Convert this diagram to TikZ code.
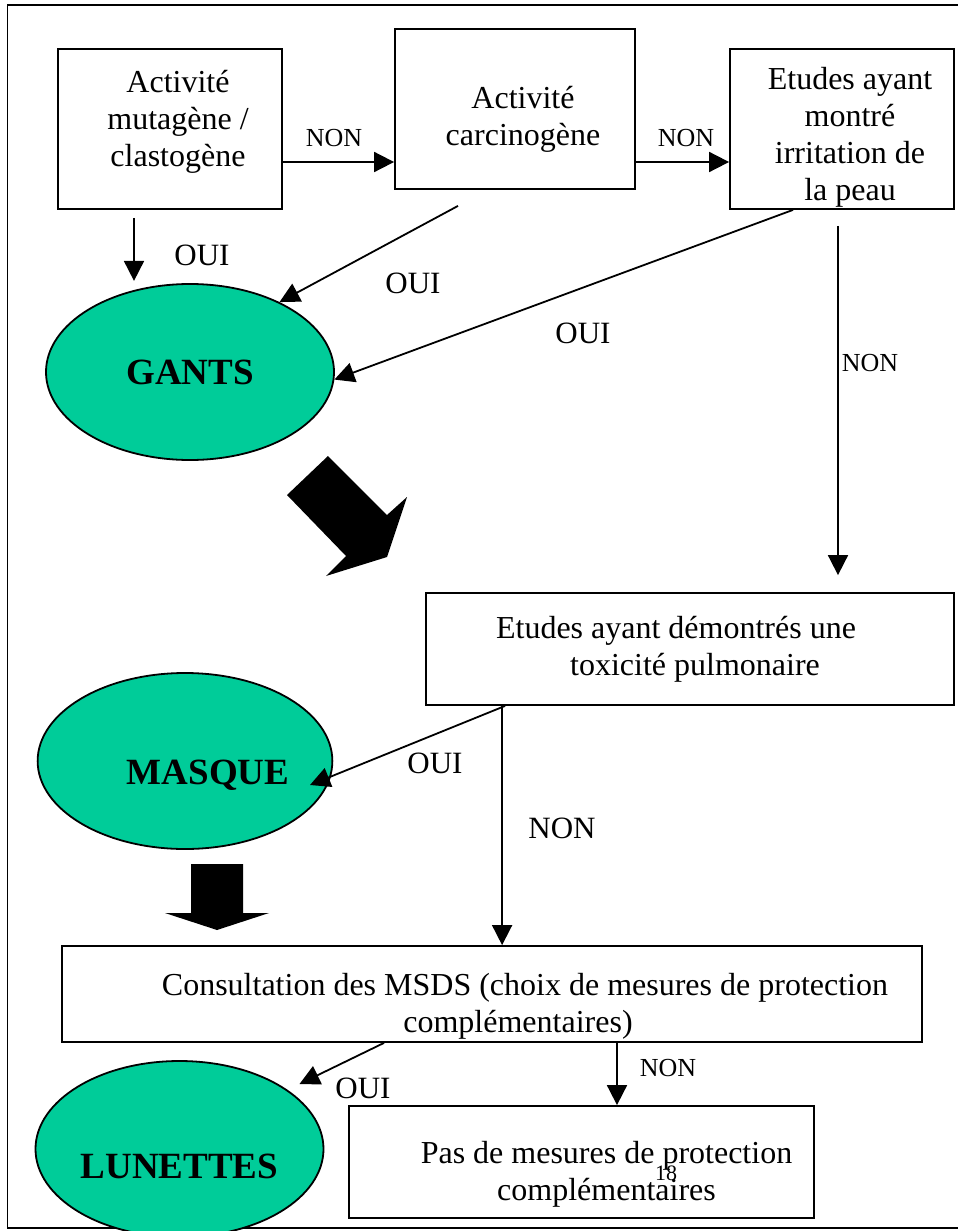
\documentclass[tikz,border=0pt]{standalone}
\usepackage{fontspec}
\setmainfont{Liberation Serif}
\usetikzlibrary{arrows.meta}
\usetikzlibrary{shapes.geometric}

\definecolor{ovalgreen}{RGB}{0,204,153}

\begin{document}
\begin{tikzpicture}[x=1pt, y=-1pt, line width=1.8pt,
  box/.style={draw, align=center, inner sep=0pt, font=\fontsize{32}{37}\selectfont},
  oval/.style={draw, ellipse, fill=ovalgreen, minimum width=288pt, minimum height=176pt,
               inner sep=0pt, font=\fontsize{37}{44}\selectfont\bfseries},
  flow/.style={-{Triangle[length=20pt,width=20pt]}},
  small/.style={font=\fontsize{26}{30}\selectfont, inner sep=0pt},
  big/.style={font=\fontsize{31}{35}\selectfont, inner sep=0pt}]
\useasboundingbox (0,0) rectangle (958,1231);
\draw (7.5,5) rectangle (965,1228);

% decision boxes
\node[box, minimum width=224pt, minimum height=160pt] (muta) at (170,129)
  {\hspace*{16pt}Activité\\\hspace*{16pt}mutagène /\\\hspace*{16pt}clastogène\rule[-21pt]{0pt}{21pt}};
\node[box, minimum width=240pt, minimum height=160pt] (carc) at (515,109)
  {\rule{0pt}{43pt}\hspace*{16pt}Activité\\\hspace*{16pt}carcinogène};
\node[box, minimum width=224pt, minimum height=160pt] (irri) at (842,129)
  {\rule{0pt}{38pt}\hspace*{16pt}Etudes ayant\\\hspace*{16pt}montré\\\hspace*{16pt}irritation de\\\hspace*{16pt}la peau};
\node[box, minimum width=528pt, minimum height=112pt] (pulm) at (690,649)
  {Etudes ayant démontrés une\hspace*{28pt}\\\hspace*{10pt}toxicité pulmonaire};
\node[box, minimum width=860pt, minimum height=96pt] (msds) at (492,994)
  {\rule{0pt}{47pt}\hspace*{66pt}Consultation des MSDS (choix de mesures de protection\\\hspace*{52pt}complémentaires)};
\node[box, minimum width=465pt, minimum height=112pt] (pas) at (581.5,1162)
  {\rule{0pt}{47pt}\hspace*{50pt}Pas de mesures de protection\\\hspace*{50pt}complémentaires};

% protections
\node[oval] (gants) at (190,372) {\raisebox{-12.5pt}[0pt][0pt]{GANTS}};
\node[oval] (masque) at (185,761) {\hspace*{46pt}\raisebox{-23pt}[0pt][0pt]{MASQUE}};
\node[oval] (lunettes) at (179.5,1149) {\raisebox{-29.5pt}[0pt][0pt]{LUNETTES}};

% block arrows
\fill (328,456) -- (287,495) -- (346,556) -- (326,576) -- (387,557) -- (407,497) -- (387,515) -- cycle;
\fill (191,864) -- (243,864) -- (243,913) -- (269,913) -- (217,930) -- (165,913) -- (191,913) -- cycle;

% NON branches
\coordinate (a) at ([yshift=-33pt]muta.east);
\draw[flow] (a) -- (a -| carc.west);
\coordinate (b) at ([yshift=-53pt]carc.east);
\draw[flow] (b) -- (b -| irri.west);
\draw[flow] ([shift={(-4,16)}]irri.south) -- ([shift={(148,-17)}]pulm.north);
\coordinate (c) at ([xshift=77pt]pulm.south west);
\draw[flow] (c) -- (c |- msds.north);
\coordinate (d) at ([xshift=125pt]msds.south);
\draw[flow] (d) -- (d |- pas.north);

% OUI branches
\draw[flow] ([shift={(-36,8)}]muta.south) -- ++(0,63);
\draw[flow] ([shift={(-57,16)}]carc.south) -- (gants.38);
\draw[flow] ([xshift=-49pt]irri.south) -- (gants.-3);
\draw[flow] ([xshift=80pt]pulm.south west) -- ([shift={(125,24)}]masque.center);
\draw[flow] ([xshift=-108pt]msds.south) -- ([shift={(120,-65)}]lunettes.center);

% labels
\node[small] (non1) at (334,138) {NON};
\node[small] (non2) at (686,138) {NON};
\node[small] (non3) at (870,363) {NON};
\node[big] (non4) at (562,828) {NON};
\node[small] (non5) at (668,1068) {NON};
\node[big] (oui1) at (202,255) {OUI};
\node[big] (oui2) at (413,283) {OUI};
\node[big] (oui3) at (583,333) {OUI};
\node[big] (oui4) at (435,763) {OUI};
\node[big] (oui5) at (363,1088) {OUI};
\node[font=\fontsize{22}{26}\selectfont, inner sep=0pt] (page) at (666,1173) {18};
\end{tikzpicture}
\end{document}
